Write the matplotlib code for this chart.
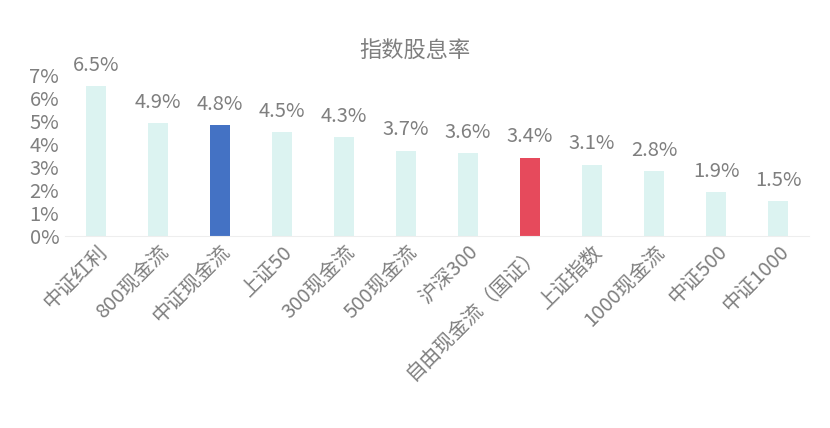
import matplotlib
matplotlib.use("Agg")
import matplotlib.pyplot as plt

plt.rcParams['font.family'] = ['Noto Sans CJK SC', 'DejaVu Sans']

categories = ["中证红利", "800现金流", "中证现金流", "上证50", "300现金流", "500现金流",
              "沪深300", "自由现金流（国证）", "上证指数", "1000现金流", "中证500", "中证1000"]
values = [6.5, 4.9, 4.8, 4.5, 4.3, 3.7, 3.6, 3.4, 3.1, 2.8, 1.9, 1.5]
labels = ["6.5%", "4.9%", "4.8%", "4.5%", "4.3%", "3.7%", "3.6%", "3.4%", "3.1%", "2.8%", "1.9%", "1.5%"]
yticks = [0, 1, 2, 3, 4, 5, 6, 7]

colors = ["#dcf3f1"] * len(values)
colors[2] = "#4472c4"
colors[7] = "#e64a5c"
grey = "#7f7f7f"

fig = plt.figure(figsize=(8.3, 4.28), dpi=100)
ax = fig.add_axes([0.078, 0.449, 0.897, 0.376])
x = range(len(values))
ax.bar(x, values, width=0.33, color=colors)
for i, (v, l) in enumerate(zip(values, labels)):
    ax.text(i, v + 0.45, l, ha="center", va="bottom", fontsize=14.5, color=grey)
ax.set_xlim(-0.5, len(values) - 0.5)
ax.set_ylim(0, 7)
ax.set_yticks(yticks)
ax.set_yticklabels([f"{t}%" for t in yticks], fontsize=14.5, color=grey)
ax.set_xticks(list(x))
ax.set_xticklabels(categories, rotation=45, ha="right", rotation_mode="anchor",
                   fontsize=14.5, color=grey)
for s in ["top", "right", "left"]:
    ax.spines[s].set_visible(False)
ax.spines["bottom"].set_color("#eeeeee")
ax.tick_params(length=0, pad=4)
fig.text(0.5, 0.865, "指数股息率", ha="center", fontsize=16, color=grey)
fig.savefig("out.png", dpi=100)
